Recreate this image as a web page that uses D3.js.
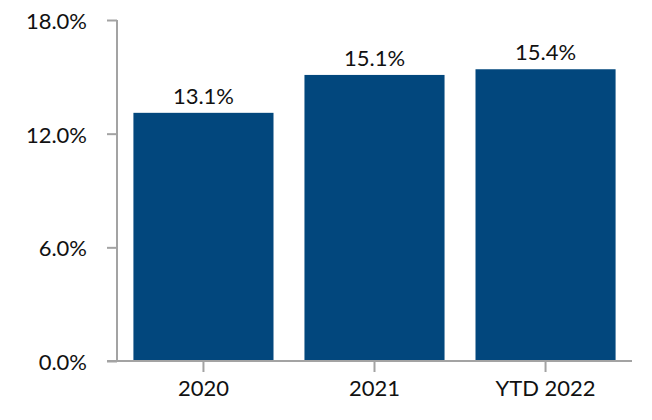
<!DOCTYPE html>
<html><head><meta charset="utf-8">
<script src="https://cdn.jsdelivr.net/npm/d3@7"></script>
<style>html,body{margin:0;padding:0;background:#fff;}svg{display:block;}</style>
</head><body>
<svg id="chart" width="652" height="420"></svg>
<script>
const categories = ["2020", "2021", "YTD 2022"];
const values = [13.1, 15.1, 15.4];
const yTicks = [0, 6, 12, 18];

(function () {
const svg = d3.select("#chart");
const font = "Lato, 'Noto Sans', sans-serif";
const fs = 22;
const mLeft = 117, mRight = 632, mTop = 20, mBottom = 361;
const x = d3.scaleBand().domain(categories).range([mLeft, mRight]).paddingInner(0.181).paddingOuter(0.096);
const y = d3.scaleLinear().domain([0, 18]).range([mBottom, mTop]);
const axisColor = "#a3a3a3";

svg.selectAll("rect.bar").data(values).join("rect")
  .attr("class", "bar")
  .attr("x", (d, i) => x(categories[i]))
  .attr("width", x.bandwidth())
  .attr("y", d => y(d))
  .attr("height", d => y(0) - y(d))
  .attr("fill", "#02477d");

const yAxis = svg.append("g").attr("transform", `translate(${mLeft},0)`)
  .call(d3.axisLeft(y).tickValues(yTicks).tickSize(10).tickPadding(20).tickFormat(d => d.toFixed(1) + "%"));
yAxis.select(".domain").attr("stroke", axisColor).attr("stroke-width", 2).attr("d", `M0,${mTop}V${mBottom}`);
yAxis.selectAll(".tick line").attr("stroke", axisColor).attr("stroke-width", 2);
yAxis.selectAll(".tick text").attr("font-family", font).attr("font-size", fs).attr("fill", "#111").attr("dy", "0.38em");

const xAxis = svg.append("g").attr("transform", `translate(0,${mBottom})`)
  .call(d3.axisBottom(x).tickSize(11).tickPadding(8));
xAxis.select(".domain").attr("stroke", axisColor).attr("stroke-width", 2).attr("d", `M${mLeft - 10},0H${mRight}`);
xAxis.selectAll(".tick line").attr("stroke", axisColor).attr("stroke-width", 2);
xAxis.selectAll(".tick text").attr("font-family", font).attr("font-size", fs).attr("fill", "#111");

svg.selectAll("text.val").data(values).join("text")
  .attr("class", "val")
  .attr("x", (d, i) => x(categories[i]) + x.bandwidth() / 2)
  .attr("y", d => y(d) - 9)
  .attr("text-anchor", "middle")
  .attr("font-family", font).attr("font-size", fs).attr("fill", "#111")
  .text(d => d.toFixed(1) + "%");
})();
</script>
</body></html>
